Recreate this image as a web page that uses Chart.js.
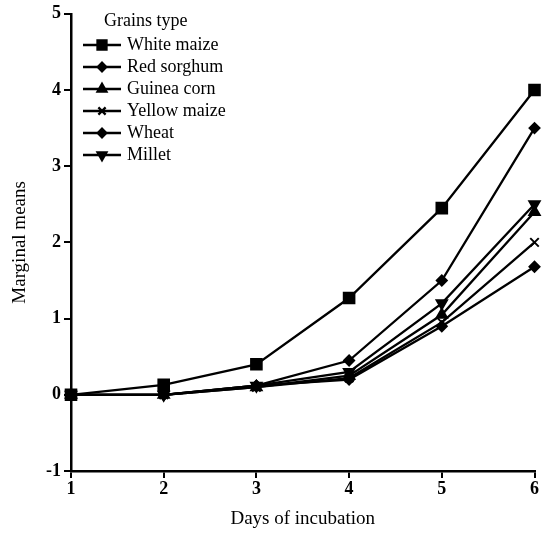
<!DOCTYPE html>
<html>
<head>
<meta charset="utf-8">
<script src="https://cdn.jsdelivr.net/npm/chart.js@4.4.0/dist/chart.umd.min.js"></script>
<style>
html,body{margin:0;padding:0;background:#fff;}
#wrap{width:544px;height:537px;}
</style>
</head>
<body>
<div id="wrap"><canvas id="c" width="544" height="537"></canvas></div>
<script>
const days = ['1','2','3','4','5','6'];
const yTicks = [-1,0,1,2,3,4,5];
const seriesNames = ['White maize','Red sorghum','Guinea corn','Yellow maize','Wheat','Millet'];
const whiteMaize  = [0, 0.13, 0.40, 1.27, 2.45, 4.00];
const redSorghum  = [0, 0.00, 0.12, 0.45, 1.50, 3.50];
const guineaCorn  = [0, 0.00, 0.10, 0.25, 1.05, 2.40];
const yellowMaize = [0, 0.00, 0.10, 0.22, 0.95, 2.00];
const wheat       = [0, 0.00, 0.12, 0.20, 0.90, 1.68];
const millet      = [0, 0.00, 0.12, 0.30, 1.20, 2.50];

const styles = [
  {pointStyle:'rect', pointRadius:7.5},
  {pointStyle:'rectRot', pointRadius:5},
  {pointStyle:'triangle', pointRadius:6},
  {pointStyle:'crossRot', pointRadius:6},
  {pointStyle:'rectRot', pointRadius:5},
  {pointStyle:'triangle', pointRadius:6, rotation:180}
];
const values = [whiteMaize, redSorghum, guineaCorn, yellowMaize, wheat, millet];

const datasets = seriesNames.map((n,i)=>({
  label:n,
  data:values[i],
  borderColor:'#000',
  backgroundColor:'#000',
  borderWidth:2.3,
  pointBorderWidth:2,
  pointStyle:styles[i].pointStyle,
  pointRadius:styles[i].pointRadius,
  pointRotation:styles[i].rotation||0,
  clip:false,
  tension:0
}));

const legendPlugin = {
  id:'innerLegend',
  afterDraw(chart){
    const ctx = chart.ctx;
    ctx.save();
    ctx.fillStyle = '#000';
    ctx.font = '18px "Liberation Serif"';
    ctx.textBaseline = 'middle';
    ctx.textAlign = 'left';
    ctx.fillText('Grains type', 104, 21);
    chart.data.datasets.forEach((ds,i)=>{
      const y = 45 + i*22;
      ctx.strokeStyle = '#000';
      ctx.lineWidth = 2.3;
      ctx.beginPath();
      ctx.moveTo(83, y); ctx.lineTo(121, y); ctx.stroke();
      ctx.fillStyle = '#000';
      Chart.helpers.drawPoint(ctx, {pointStyle:ds.pointStyle, radius:ds.pointRadius*0.85, rotation:ds.pointRotation, borderWidth:2}, 102, y);
      ctx.fillStyle = '#000';
      ctx.fillText(ds.label, 127, y);
    });
    ctx.restore();
  }
};

new Chart(document.getElementById('c'), {
  type:'line',
  data:{labels:days, datasets},
  options:{
    responsive:false,
    animation:false,
    layout:{padding:{top:12, right:7, left:0, bottom:4}},
    plugins:{legend:{display:false}, tooltip:{enabled:false}},
    scales:{
      x:{
        offset:false,
        grid:{drawOnChartArea:false, color:'#000', lineWidth:2, tickLength:7, tickWidth:2},
        border:{color:'#000', width:2.5},
        ticks:{color:'#000', font:{family:'"Liberation Serif"', size:18, weight:'bold'}, padding:1, maxRotation:0},
        title:{display:true, text:'Days of incubation', color:'#000', font:{family:'"Liberation Serif"', size:19}, padding:{bottom:3}},
        afterFit(s){ s.height = 62; }
      },
      y:{
        min:-1, max:5,
        afterBuildTicks(s){ s.ticks = yTicks.map(v=>({value:v})); },
        grid:{drawOnChartArea:false, color:'#000', lineWidth:2, tickLength:7, tickWidth:2},
        border:{color:'#000', width:2.5},
        ticks:{color:'#000', font:{family:'"Liberation Serif"', size:18, weight:'bold'}, padding:3},
        title:{display:true, text:'Marginal means', color:'#000', font:{family:'"Liberation Serif"', size:19}, padding:{top:9}},
        afterFit(s){ s.width = 71; }
      }
    }
  },
  plugins:[legendPlugin]
});
</script>
</body>
</html>
